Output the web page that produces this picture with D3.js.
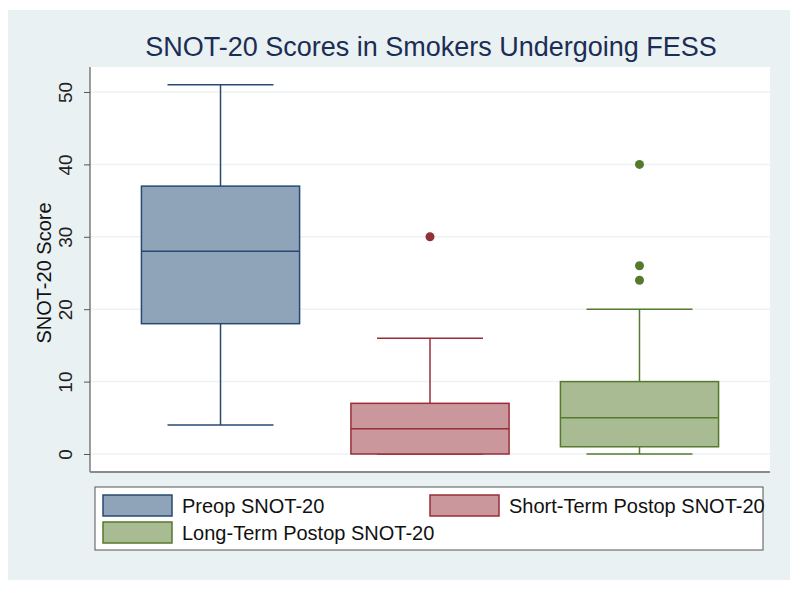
<!DOCTYPE html>
<html>
<head>
<meta charset="utf-8">
<script src="https://cdn.jsdelivr.net/npm/d3@7"></script>
<style>
  body { margin: 0; background: #fff; }
  text { font-family: "Liberation Sans", Arial, sans-serif; }
</style>
</head>
<body>
<svg id="chart" width="800" height="594"></svg>
<script>
// box summaries
const groups = ["Preop SNOT-20", "Short-Term Postop SNOT-20", "Long-Term Postop SNOT-20"];
const lowWhisker = [4, 0, 0];
const q1 = [18, 0, 1];
const median = [28, 3.5, 5];
const q3 = [37, 7, 10];
const highWhisker = [51, 16, 20];
const outliers = [[], [30], [24, 26, 40]];
const yTicks = [0, 10, 20, 30, 40, 50];

const fills = ["#8fa3b9", "#c9979c", "#a9bb92"];
const strokes = ["#264a72", "#9a2d38", "#557a2e"];
const dotColors = ["#264a72", "#933139", "#557a2e"];

const WIDTH = 800, HEIGHT = 594;
const plot = { left: 90, right: 770, top: 67, bottom: 472 };

const svg = d3.select("#chart");

// outer grey-blue background
svg.append("rect")
  .attr("x", 8).attr("y", 10)
  .attr("width", 782).attr("height", 570)
  .attr("fill", "#eaf1f3");

svg.append("rect")
  .attr("x", plot.left).attr("y", plot.top)
  .attr("width", plot.right - plot.left).attr("height", plot.bottom - plot.top)
  .attr("fill", "#fff");

var y = d3.scaleLinear().domain([0, 50]).range([454, 92]);
var x = d3.scalePoint().domain(groups).range([plot.left, plot.right]).padding(0.623);
const boxW = x.step() * 0.755;
const capW = boxW * 0.67;

// gridlines
svg.append("g")
  .selectAll("line")
  .data(yTicks)
  .enter()
  .append("line")
  .attr("x1", plot.left).attr("x2", plot.right)
  .attr("y1", (d) => y(d)).attr("y2", (d) => y(d))
  .attr("stroke", "#edf2f4")
  .attr("stroke-width", 1.5);

// y axis
var yAxis = svg.append("g")
  .attr("transform", `translate(${plot.left},0)`)
  .call(d3.axisLeft(y).tickValues(yTicks).tickSize(6).tickPadding(10));
yAxis.select(".domain")
  .attr("d", `M0,${plot.top}V${plot.bottom}`)
  .attr("stroke", "#7d7d7d").attr("stroke-width", 1.5);
yAxis.selectAll(".tick line").attr("stroke", "#555");
yAxis.selectAll(".tick text")
  .attr("font-size", 19).attr("fill", "#222")
  .attr("text-anchor", "middle")
  .attr("transform", "rotate(-90, -25, 0)")
  .attr("x", -25).attr("y", 0).attr("dy", "0.36em");

// x axis line
svg.append("line")
  .attr("x1", plot.left).attr("x2", plot.right)
  .attr("y1", plot.bottom).attr("y2", plot.bottom)
  .attr("stroke", "#8a8a8a").attr("stroke-width", 2);

// boxes
var data = groups.map((g, i) => ({
  name: g, lo: lowWhisker[i], q1: q1[i], med: median[i], q3: q3[i], hi: highWhisker[i],
  out: outliers[i], fill: fills[i], stroke: strokes[i], dot: dotColors[i]
}));

var boxes = svg.append("g").selectAll("g").data(data).enter().append("g");

boxes.append("line") // upper whisker
  .attr("x1", (d) => x(d.name)).attr("x2", (d) => x(d.name))
  .attr("y1", (d) => y(d.q3)).attr("y2", (d) => y(d.hi))
  .attr("stroke", (d) => d.stroke).attr("stroke-width", 1.5);
boxes.append("line") // lower whisker
  .attr("x1", (d) => x(d.name)).attr("x2", (d) => x(d.name))
  .attr("y1", (d) => y(d.q1)).attr("y2", (d) => y(d.lo))
  .attr("stroke", (d) => d.stroke).attr("stroke-width", 1.5);
boxes.append("line") // upper cap
  .attr("x1", (d) => x(d.name) - capW / 2).attr("x2", (d) => x(d.name) + capW / 2)
  .attr("y1", (d) => y(d.hi)).attr("y2", (d) => y(d.hi))
  .attr("stroke", (d) => d.stroke).attr("stroke-width", 1.5);
boxes.append("line") // lower cap
  .attr("x1", (d) => x(d.name) - capW / 2).attr("x2", (d) => x(d.name) + capW / 2)
  .attr("y1", (d) => y(d.lo)).attr("y2", (d) => y(d.lo))
  .attr("stroke", (d) => d.stroke).attr("stroke-width", 1.5);
boxes.append("rect")
  .attr("x", (d) => x(d.name) - boxW / 2)
  .attr("y", (d) => y(d.q3))
  .attr("width", boxW)
  .attr("height", (d) => y(d.q1) - y(d.q3))
  .attr("fill", (d) => d.fill)
  .attr("stroke", (d) => d.stroke).attr("stroke-width", 1.5);
boxes.append("line") // median
  .attr("x1", (d) => x(d.name) - boxW / 2).attr("x2", (d) => x(d.name) + boxW / 2)
  .attr("y1", (d) => y(d.med)).attr("y2", (d) => y(d.med))
  .attr("stroke", (d) => d.stroke).attr("stroke-width", 1.5);
boxes.selectAll("circle")
  .data((d) => d.out.map((v) => ({ v: v, name: d.name, c: d.dot })))
  .enter()
  .append("circle")
  .attr("cx", (d) => x(d.name))
  .attr("cy", (d) => y(d.v))
  .attr("r", 4.5)
  .attr("fill", (d) => d.c);

// title and axis label
svg.append("text")
  .attr("x", 431).attr("y", 56)
  .attr("text-anchor", "middle")
  .attr("font-size", 27)
  .attr("fill", "#1c2d55")
  .text("SNOT-20 Scores in Smokers Undergoing FESS");

svg.append("text")
  .attr("transform", "translate(51,273) rotate(-90)")
  .attr("text-anchor", "middle")
  .attr("font-size", 20)
  .attr("fill", "#111")
  .text("SNOT-20 Score");

// legend
var legend = svg.append("g");
legend.append("rect")
  .attr("x", 95).attr("y", 487)
  .attr("width", 668).attr("height", 63)
  .attr("fill", "#fff")
  .attr("stroke", "#555").attr("stroke-width", 1);

const legendPos = [[103, 495], [430, 495], [103, 522]];
var items = legend.selectAll("g.item")
  .data(data)
  .enter()
  .append("g")
  .attr("class", "item")
  .attr("transform", (d, i) => `translate(${legendPos[i][0]},${legendPos[i][1]})`);
items.append("rect")
  .attr("width", 69).attr("height", 21)
  .attr("fill", (d) => d.fill)
  .attr("stroke", (d) => d.stroke).attr("stroke-width", 1.5);
items.append("text")
  .attr("x", 79).attr("y", 18)
  .attr("font-size", 20)
  .attr("fill", "#111")
  .text((d) => d.name);
</script>
</body>
</html>
